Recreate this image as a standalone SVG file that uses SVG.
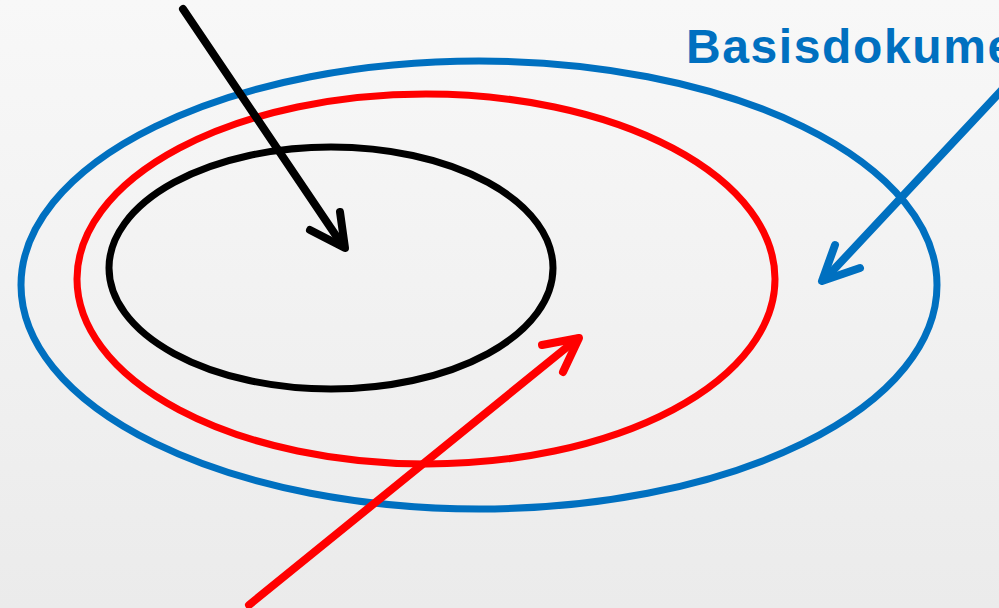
<svg xmlns="http://www.w3.org/2000/svg" width="999" height="608" viewBox="0 0 999 608">
<defs>
<linearGradient id="bg" x1="0" y1="0" x2="0" y2="1">
<stop offset="0" stop-color="#f8f8f8"/>
<stop offset="1" stop-color="#ebebeb"/>
</linearGradient>
</defs>
<style>
.e{fill:none;stroke-width:7}
.a{fill:none;stroke-width:8;stroke-linecap:round;stroke-linejoin:round}
.lbl{font-family:"Liberation Sans",Arial,sans-serif;font-weight:bold;font-size:48px;letter-spacing:1.6px;fill:#0070c0}
</style>
<rect width="999" height="608" fill="url(#bg)"/>
<g id="outer">
<ellipse class="e" cx="479" cy="285" rx="458" ry="224" stroke="#0070c0"/>
</g>
<g id="middle">
<ellipse class="e" cx="426" cy="279" rx="349" ry="185" stroke="#ff0000"/>
</g>
<g id="inner">
<ellipse class="e" cx="331" cy="268" rx="222" ry="121" stroke="#000000"/>
</g>
<g id="label">
<text class="lbl" x="686" y="63">Basisdokume</text>
</g>
<g id="connectors">
<g stroke="#000000" class="a">
<line x1="183" y1="9" x2="343" y2="246"/>
<polyline points="340,212 345,248 310,230"/>
</g>
<g stroke="#0070c0" class="a">
<line x1="1002" y1="90" x2="825" y2="279"/>
<polyline points="835,245 822,281 860,268"/>
</g>
<g stroke="#ff0000" class="a">
<line x1="249" y1="605" x2="577" y2="339"/>
<polyline points="542,345 579,338 563,372"/>
</g>
</g>
</svg>
